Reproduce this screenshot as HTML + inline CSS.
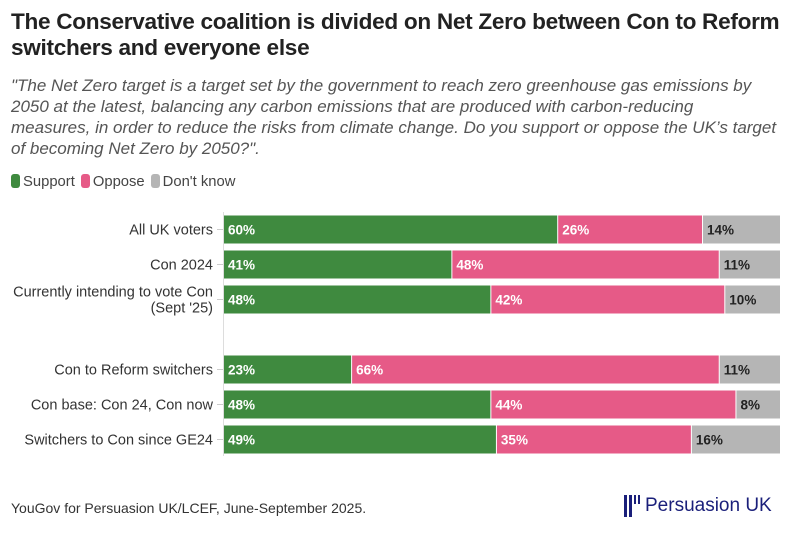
<!DOCTYPE html>
<html><head><meta charset="utf-8"><style>
body{margin:0;width:795px;height:549px;background:#fff;font-family:"Liberation Sans",sans-serif;color:#222;position:relative;overflow:hidden}
.t{position:absolute;left:11px;top:9px;font-size:22.6px;font-weight:bold;line-height:26px;color:#222;letter-spacing:-0.3px;white-space:nowrap}
.s{position:absolute;left:11px;top:75px;width:790px;font-size:17px;font-style:italic;line-height:21px;color:#555;white-space:nowrap}
.lg{position:absolute;top:174px;left:11px;font-size:14.8px;color:#444;display:flex;gap:6px;align-items:center}
.lg i{display:inline-block;width:9px;height:14px;border-radius:3px;margin-right:3px;vertical-align:-2px}
.f{position:absolute;left:11px;top:500px;font-size:14px;color:#333}
.logo{position:absolute;left:624px;top:495px;display:flex;align-items:center;color:#1a1f7a;font-size:19px}
</style></head><body>
<div class="t">The Conservative coalition is divided on Net Zero between Con to Reform<br>switchers and everyone else</div>
<div class="s">"The Net Zero target is a target set by the government to reach zero greenhouse gas emissions by<br>2050 at the latest, balancing any carbon emissions that are produced with carbon-reducing<br>measures, in order to reduce the risks from climate change. Do you support or oppose the UK’s target<br>of becoming Net Zero by 2050?".</div>
<div class="lg">
<span><i style="background:#3f8a3f"></i>Support</span>
<span><i style="background:#e65a87"></i>Oppose</span>
<span><i style="background:#b5b5b5"></i>Don't know</span>
</div>
<svg id="c" width="795" height="549" style="position:absolute;left:0;top:0"></svg>
<div class="f">YouGov for Persuasion UK/LCEF, June-September 2025.</div>
<div class="logo"><svg width="16" height="22" style="margin-right:5px"><rect x="0" y="0" width="3" height="22" fill="#1a1f7a"/><rect x="5" y="0" width="3" height="22" fill="#1a1f7a"/><rect x="10" y="0" width="2" height="9" fill="#1a1f7a"/><rect x="14" y="0" width="2" height="9" fill="#1a1f7a"/></svg>Persuasion UK</div>
<script>
const categories=["All UK voters","Con 2024","Currently intending to vote Con|(Sept '25)","Con to Reform switchers","Con base: Con 24, Con now","Switchers to Con since GE24"];
const support=[60,41,48,23,48,49];
const oppose=[26,48,42,66,44,35];
const dontKnow=[14,11,10,11,8,16];
const rowCenters=[229.5,264.5,299.5,369.5,404.5,439.5];
const svg=document.getElementById('c');const NS='http://www.w3.org/2000/svg';
const x0=224,x1=781,bh=28;
const xs=v=>x0+(x1-x0)*v/100;
function mk(t,a){const e=document.createElementNS(NS,t);for(const k in a)e.setAttribute(k,a[k]);svg.appendChild(e);return e;}
const ax=mk('line',{x1:223.5,x2:223.5,y1:212,y2:456,stroke:'#ddd'});


const series=[[support,'#3f8a3f','#fff','support'],[oppose,'#e65a87','#fff','oppose'],[dontKnow,'#b5b5b5','#222','dont-know']];
categories.forEach((c,i)=>{
 const cy=rowCenters[i];
 const lines=c.split('|');
 const tk=mk('line',{x1:217,x2:223,y1:cy,y2:cy,stroke:'#ccc'});
 
 
 lines.forEach((l,j)=>{const t=mk('text',{x:213,y:cy+5+(j-(lines.length-1)/2)*16,'text-anchor':'end','font-size':14.5,fill:'#333','font-family':'Liberation Sans'});t.textContent=l;
 
 });
 let acc=0;
 series.forEach(([arr,col,tc,nm])=>{
  const a=xs(acc),b=xs(acc+arr[i]);
  const r=mk('rect',{x:a,y:cy-bh/2,width:Math.max(0,b-a-1),height:bh,fill:col});
  
  
  const t=mk('text',{x:a+4,y:cy+5,'font-size':13.5,'font-weight':'bold',fill:tc,'font-family':'Liberation Sans'});t.textContent=arr[i]+'%';
  
  
  acc+=arr[i];
 });
});
</script>
</body></html>
